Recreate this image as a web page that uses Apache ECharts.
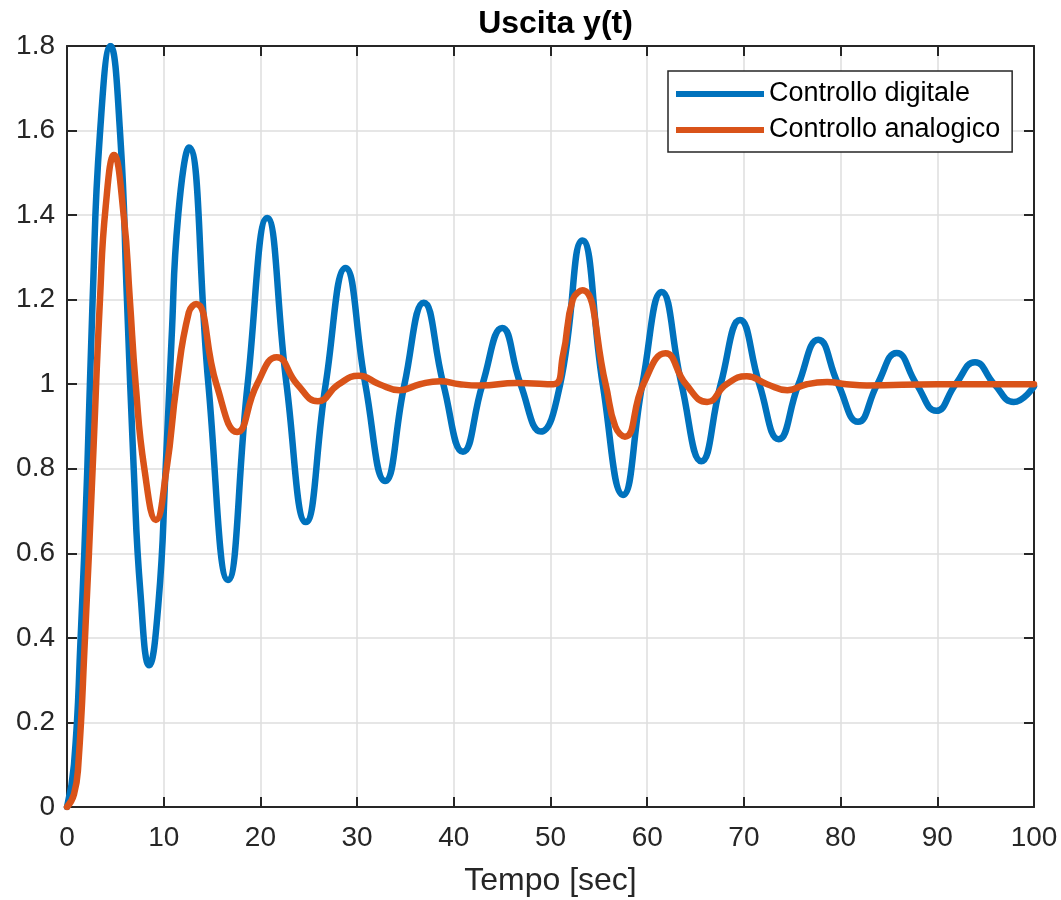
<!DOCTYPE html>
<html>
<head>
<meta charset="utf-8">
<script src="https://cdn.jsdelivr.net/npm/echarts@6/dist/echarts.min.js"></script>
<style>
html,body{margin:0;padding:0;background:#fff;}
#chart{width:1061px;height:900px;}
</style>
</head>
<body>
<div id="chart"></div>
<script>
// ---- data ----
const titleText = 'Uscita y(t)';
const xName = 'Tempo [sec]';
const seriesNames = ['Controllo digitale', 'Controllo analogico'];

const tDigitale = [0, 0.72, 1.41, 2.1, 2.65, 3.4, 4.5, 5.5, 6.2, 6.9, 7.6, 8.5, 9.45, 10.2, 10.8, 11.5, 12.6,
  14.62, 16.65, 18.68, 20.7, 22.7, 24.7, 26.75, 28.8, 30.85, 32.9, 34.9, 36.9, 38.92, 40.95, 42.97, 45.0, 46.9, 49.0,
  51.0, 53.3, 55.4, 57.5, 59.5, 61.5, 63.55, 65.6, 67.6, 69.6, 71.6, 73.6, 75.65, 77.7,
  79.75, 81.8, 83.8, 85.8, 87.85, 89.9, 91.9, 93.9, 95.9, 97.9, 100];
const yDigitale = [0, 0.1, 0.4, 0.8, 1.2, 1.59, 1.8, 1.59, 1.2, 0.8, 0.505, 0.335, 0.48, 0.8, 1.1, 1.4, 1.56,
  1.0, 0.537, 1.0, 1.393, 1.0, 0.674, 1.0, 1.275, 1.0, 0.771, 1.0, 1.193, 1.0, 0.840, 1.0, 1.133, 1.0, 0.888,
  1.0, 1.34, 1.0, 0.738, 1.0, 1.218, 1.0, 0.818, 1.0, 1.152, 1.0, 0.870, 1.0, 1.105,
  1.0, 0.911, 1.0, 1.074, 1.0, 0.937, 1.0, 1.052, 1.0, 0.958, 0.995];

const tAnalogico = [0, 0.72, 1.17, 1.86, 2.65, 3.41, 4.0, 4.86, 5.86, 6.5, 7.1, 8.0, 9.2, 10.3, 11.34, 12.6, 13.35,
  15.45, 17.6, 19.65, 21.7, 23.8, 25.95, 28.1, 30.2, 32.3, 34.4, 36.5, 38.6, 40.6, 42.7, 46.5, 50.3,
  51.3, 52.3, 53.3, 55.7, 56.7, 57.7, 59.6, 61.9, 64.0, 66.2, 68.2, 70.3, 72.4, 74.5, 76.5, 78.6, 80.6, 82.7, 90, 100];
const yAnalogico = [0, 0.03, 0.1, 0.4, 0.8, 1.2, 1.42, 1.542, 1.4, 1.2, 1.0, 0.8, 0.679, 0.8, 1.0, 1.17, 1.19,
  1.0, 0.887, 1.0, 1.064, 1.0, 0.960, 1.0, 1.02, 1.0, 0.986, 1.0, 1.007, 1.0, 0.997, 1.003, 1.0,
  1.07, 1.2, 1.222, 1.0, 0.9, 0.876, 1.0, 1.073, 1.0, 0.958, 1.0, 1.019, 1.0, 0.986, 1.0, 1.005, 1.0, 0.997, 1.0, 1.0];

const xMin = 0, xMax = 100, xStep = 10;
const yMin = 0, yMax = 1.8, yStep = 0.2;

// ---- chart ----
const FONT = '"Liberation Sans", Arial, Helvetica, sans-serif';
const INK = '#262626';
const GRID = '#dedede';
const colors = ['#0072BD', '#D95319'];

function zip(a, b) { return a.map((v, i) => [v, b[i]]); }

const chart = echarts.init(document.getElementById('chart'), null, { renderer: 'canvas' });

const axisLineStyle = { show: true, onZero: false, lineStyle: { color: INK, width: 2 } };
const tickStyle = { show: true, inside: true, length: 10, lineStyle: { color: INK, width: 2 } };

chart.setOption({
  animation: false,
  backgroundColor: '#ffffff',
  title: {
    text: titleText,
    left: 550.5,
    top: 3,
    textAlign: 'center',
    textStyle: { fontFamily: FONT, fontSize: 32, fontWeight: 'bold', color: '#000' }
  },
  legend: {
    orient: 'vertical',
    left: 668,
    top: 71,
    padding: [8, 12, 7, 8],
    itemGap: 6,
    itemWidth: 88,
    itemHeight: 6,
    itemTextGap: 9,
    icon: 'rect',
    borderColor: INK,
    borderWidth: 1.5,
    backgroundColor: '#fff',
    textStyle: { fontFamily: FONT, fontSize: 27, color: '#000', lineHeight: 30 },
    data: seriesNames
  },
  grid: { left: 67, right: 27, top: 46, bottom: 93, containLabel: false, outerBoundsMode: 'none' },
  xAxis: [{
    type: 'value', min: xMin, max: xMax, interval: xStep, position: 'bottom',
    name: xName, nameLocation: 'middle', nameGap: 58,
    nameTextStyle: { fontFamily: FONT, fontSize: 32, color: INK },
    axisLine: axisLineStyle, axisTick: tickStyle,
    axisLabel: { fontFamily: FONT, fontSize: 28, color: INK, margin: 17 },
    splitLine: { show: true, lineStyle: { color: GRID, width: 1.5 } }
  }, {
    type: 'value', min: xMin, max: xMax, interval: xStep, position: 'top',
    axisLine: axisLineStyle, axisTick: tickStyle,
    axisLabel: { show: false }, splitLine: { show: false }
  }],
  yAxis: [{
    type: 'value', min: yMin, max: yMax, interval: yStep, position: 'left',
    axisLine: axisLineStyle, axisTick: tickStyle,
    axisLabel: { fontFamily: FONT, fontSize: 28, color: INK, margin: 12 },
    splitLine: { show: true, lineStyle: { color: GRID, width: 1.5 } }
  }, {
    type: 'value', min: yMin, max: yMax, interval: yStep, position: 'right',
    axisLine: axisLineStyle, axisTick: tickStyle,
    axisLabel: { show: false }, splitLine: { show: false }
  }],
  series: [{
    name: seriesNames[0], type: 'line', smooth: 0.5, showSymbol: false, symbol: 'none',
    lineStyle: { color: colors[0], width: 6.5, join: 'round', cap: 'round' }, itemStyle: { color: colors[0] },
    data: zip(tDigitale, yDigitale), z: 3
  }, {
    name: seriesNames[1], type: 'line', smooth: 0.5, showSymbol: false, symbol: 'none',
    lineStyle: { color: colors[1], width: 6.5, join: 'round', cap: 'round' }, itemStyle: { color: colors[1] },
    data: zip(tAnalogico, yAnalogico), z: 4
  }]
});
</script>
</body>
</html>
